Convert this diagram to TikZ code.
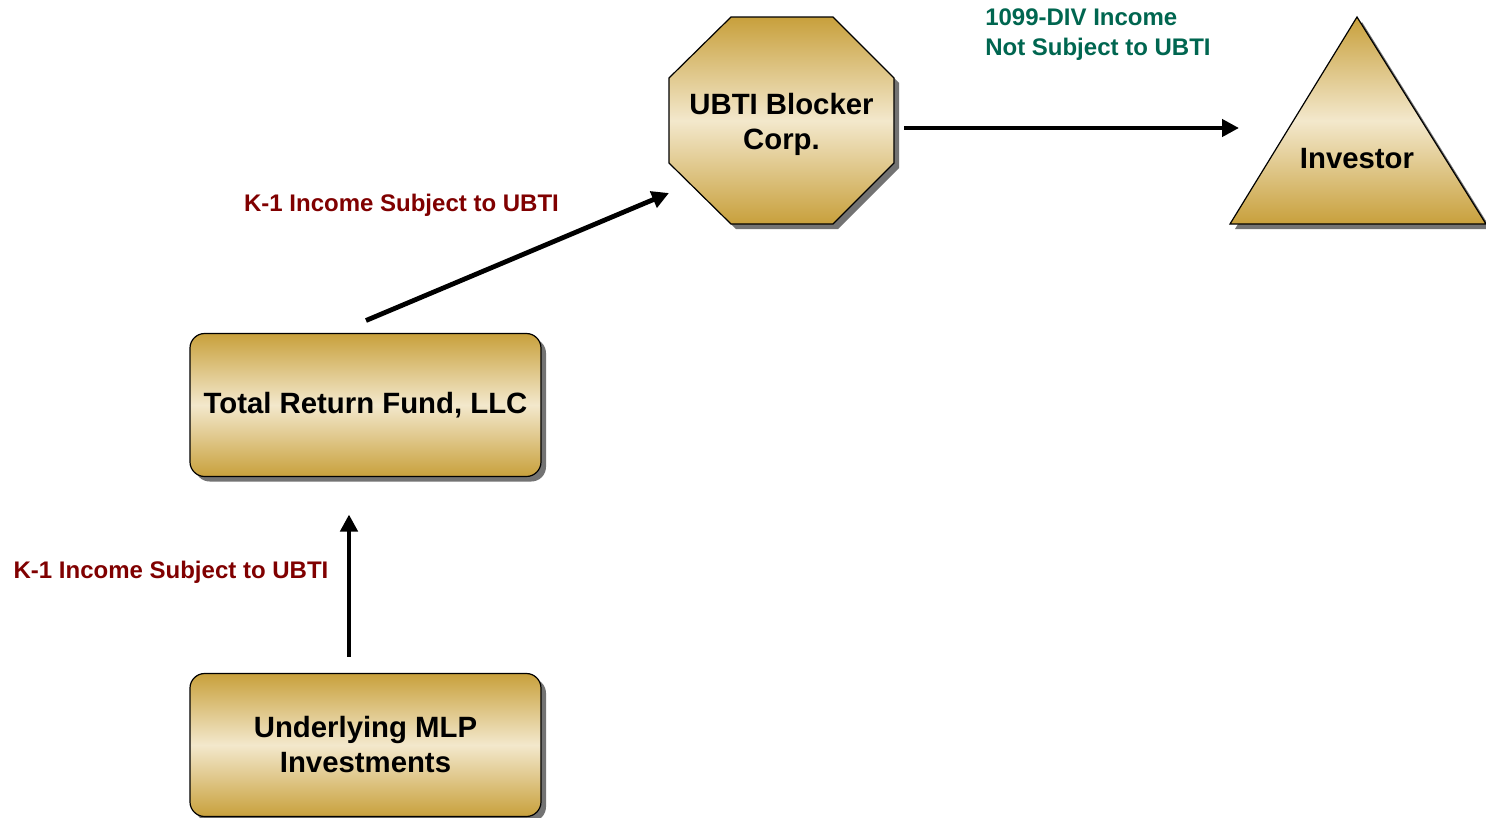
\documentclass[tikz,border=0pt]{standalone}
\usepackage{fontspec}
\setmainfont{Liberation Sans}
\usetikzlibrary{arrows.meta,shadows}

\definecolor{gold}{RGB}{200,160,60}
\definecolor{cream}{RGB}{243,232,204}
\definecolor{incomered}{RGB}{128,0,0}
\definecolor{divgreen}{RGB}{0,102,80}

\begin{document}
\begin{tikzpicture}[x=0.75pt, y=-0.75pt,
    goldfill/.style={draw=black, line width=0.9pt,
        top color=gold, bottom color=gold, middle color=cream,
        drop shadow={shadow xshift=3.75pt, shadow yshift=-3.75pt, fill=black!55, opacity=1}},
    entitytext/.style={font=\fontsize{22}{26.25}\selectfont\bfseries, align=center},
    fundbox/.style={goldfill, entitytext, rectangle, rounded corners=11pt,
        outer sep=0pt, minimum width=263.25pt, minimum height=107.25pt},
    k1label/.style={font=\fontsize{18}{22.5}\selectfont\bfseries, text=incomered, inner sep=0pt},
    divlabel/.style={font=\fontsize{18}{22.5}\selectfont\bfseries, text=divgreen, inner sep=0pt, align=left},
    flow/.style={line width=3.6pt, -{Triangle[length=12.75pt, width=12.75pt]}}]

    % Page area
    \path[use as bounding box, fill=white] (0,0) rectangle (1486,818);

    % The fund and its holdings
    \node[fundbox] (mlp) at (365.5,745) {Underlying MLP\\Investments};
    \node[fundbox] (fund) at (365.5,405) {Total Return Fund, LLC};

    % Blocker corporation (octagon)
    \path[goldfill] (731,17) -- (833,17) -- (894,78) -- (894,163)
        -- (833,224) -- (731,224) -- (669,163) -- (669,78) -- cycle;
    \node[entitytext] (blocker) at (781.5,124.5) {UBTI Blocker\\Corp.};

    % Investor triangle
    \coordinate (inv top) at (1357,17);
    \coordinate (inv left) at (1230,224);
    \coordinate (inv right) at (1486,224);
    \path[goldfill] (inv top) -- (inv right) -- (inv left) -- cycle;
    \node[entitytext] (investor) at (1357,159) {Investor};

    % Income flows
    \draw[flow] ([shift={(-16.5,-17)}]mlp.north) -- ([shift={(-16.5,38)}]fund.south);
    \draw[flow] ([shift={(0.5,-13)}]fund.north) -- ([shift={(-112.5,68.5)}]blocker.center);
    \draw[flow] ([shift={(122.5,3.5)}]blocker.center) -- ([shift={(9,-96)}]inv left);

    % Labels for flows
    \node[k1label] (k1 low) at (171,572) {K-1 Income Subject to UBTI};
    \node[k1label] (k1 high) at (401.5,205) {K-1 Income Subject to UBTI};
    \node[divlabel, anchor=west] (div note) at (985,35) {1099-DIV Income\\Not Subject to UBTI};

\end{tikzpicture}
\end{document}
